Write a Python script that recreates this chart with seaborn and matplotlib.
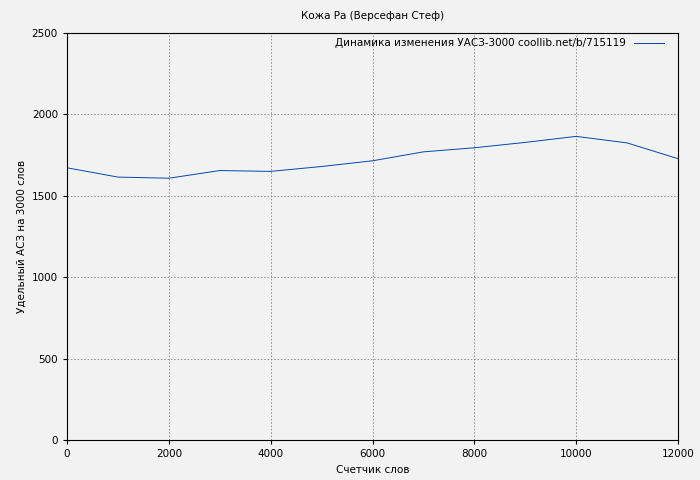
import matplotlib
matplotlib.use("Agg")
import matplotlib.pyplot as plt
import seaborn as sns
import pandas as pd

words = [0, 1000, 2000, 3000, 4000, 5000, 6000, 7000, 8000, 9000, 10000, 11000, 12000]
values = [1672, 1615, 1608, 1655, 1650, 1680, 1715, 1770, 1795, 1828, 1865, 1825, 1728]
label = "Динамика изменения УАСЗ-3000 coollib.net/b/715119"

df = pd.DataFrame({"x": words, "y": values})
fig = plt.figure(figsize=(7, 4.8), dpi=100, facecolor="#f2f2f2")
ax = fig.add_axes([67/700, 40/480, 611/700, 407/480])
ax.set_facecolor("#f2f2f2")
sns.lineplot(data=df, x="x", y="y", ax=ax, color="#0047b3", linewidth=0.7, label=label)
ax.set_xlim(0, 12000)
ax.set_ylim(0, 2500)
ax.set_xticks(range(0, 12001, 2000))
ax.set_yticks(range(0, 2501, 500))
ax.grid(True, color="#888888", linestyle=(0, (2, 2)), linewidth=0.6)
for s in ax.spines.values():
    s.set_color("black"); s.set_linewidth(0.8)
ax.tick_params(labelsize=7.5, length=3)
ax.set_xlabel("Счетчик слов", fontsize=7.5)
ax.set_ylabel("Удельный АСЗ на 3000 слов", fontsize=7.5)
ax.set_title("Кожа Ра (Версефан Стеф)", fontsize=7.5, pad=10)
ax.legend(loc="upper right", fontsize=7.5, frameon=False, markerfirst=False,
          handlelength=2.8, bbox_to_anchor=(0.985, 1.0), borderaxespad=0.1)
fig.savefig("out.png", dpi=100, facecolor=fig.get_facecolor())
